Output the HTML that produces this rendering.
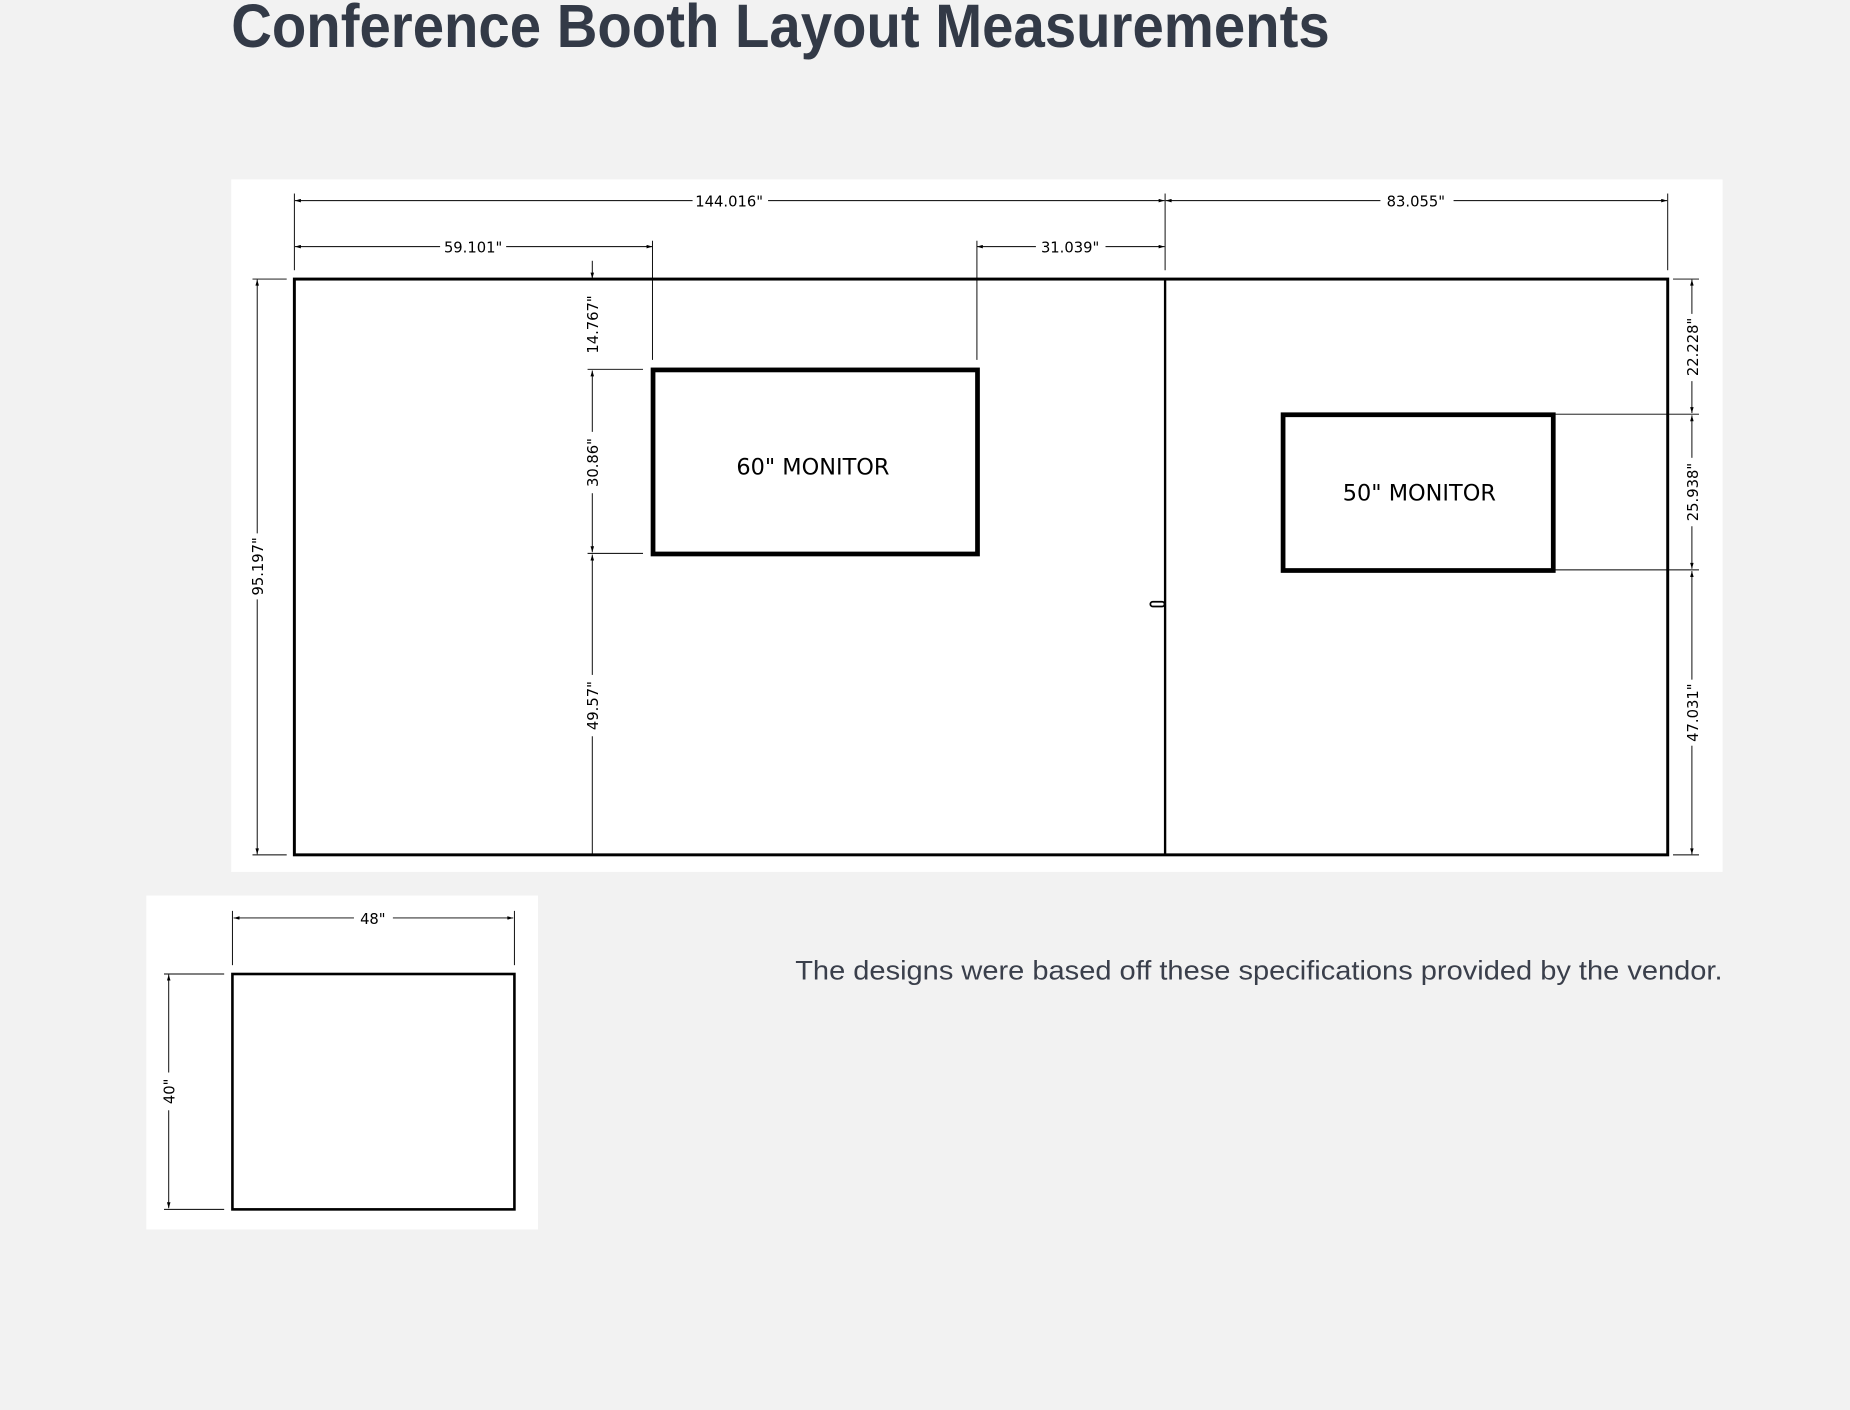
<!DOCTYPE html>
<html><head><meta charset="utf-8"><style>
html,body{margin:0;padding:0;background:#f2f2f2;width:1850px;height:1410px;overflow:hidden}
svg{display:block}
</style></head><body>
<svg width="1850" height="1410" viewBox="0 0 1568 1195" xmlns="http://www.w3.org/2000/svg">
<defs>
<marker id="a" viewBox="0 0 10 6" refX="10" refY="3" markerWidth="7" markerHeight="3" orient="auto-start-reverse" markerUnits="userSpaceOnUse"><path d="M0,0 L10,3 L0,6 z" fill="#000"/></marker>
</defs>
<rect width="1568" height="1195" fill="#f2f2f2"/>
<text x="196" y="40" font-family="Liberation Sans, sans-serif" font-size="52" font-weight="bold" fill="#333a47" textLength="931" lengthAdjust="spacingAndGlyphs">Conference Booth Layout Measurements</text>

<rect x="196" y="152" width="1264" height="587" fill="#fff"/>
<g stroke="#000" fill="none">
<rect x="249.5" y="236.5" width="1164" height="488" stroke-width="2.5"/>
<line x1="987.5" y1="236" x2="987.5" y2="724" stroke-width="2"/>
<rect x="975" y="510" width="12" height="4" rx="2" stroke-width="1.5"/>
<rect x="553.5" y="313.5" width="275" height="156" stroke-width="4"/>
<rect x="1087.5" y="351.5" width="229" height="132" stroke-width="4"/>
</g>
<g stroke="#000" stroke-width="0.8" fill="none">
<!-- extension lines -->
<line x1="249.5" y1="164" x2="249.5" y2="229"/>
<line x1="987.5" y1="164" x2="987.5" y2="229"/>
<line x1="1413.5" y1="164" x2="1413.5" y2="229"/>
<line x1="553" y1="204" x2="553" y2="305"/>
<line x1="828" y1="204" x2="828" y2="305"/>
<line x1="214" y1="236.5" x2="243" y2="236.5"/>
<line x1="214" y1="724.5" x2="243" y2="724.5"/>
<line x1="498" y1="313" x2="545" y2="313"/>
<line x1="498" y1="469" x2="545" y2="469"/>
<line x1="1316" y1="351" x2="1440" y2="351"/>
<line x1="1316" y1="483" x2="1440" y2="483"/>
<line x1="1418" y1="236.5" x2="1440" y2="236.5"/>
<line x1="1418" y1="724.5" x2="1440" y2="724.5"/>
<!-- dims -->
<line x1="250" y1="170" x2="587" y2="170" marker-start="url(#a)"/>
<line x1="651" y1="170" x2="987" y2="170" marker-end="url(#a)"/>
<line x1="988" y1="170" x2="1170" y2="170" marker-start="url(#a)"/>
<line x1="1232" y1="170" x2="1413" y2="170" marker-end="url(#a)"/>
<line x1="250" y1="209" x2="373" y2="209" marker-start="url(#a)"/>
<line x1="429" y1="209" x2="553" y2="209" marker-end="url(#a)"/>
<line x1="828" y1="209" x2="878" y2="209" marker-start="url(#a)"/>
<line x1="937" y1="209" x2="987" y2="209" marker-end="url(#a)"/>
<line x1="218" y1="237" x2="218" y2="452" marker-start="url(#a)"/>
<line x1="218" y1="508" x2="218" y2="724" marker-end="url(#a)"/>
<line x1="502" y1="221" x2="502" y2="236" marker-end="url(#a)"/>
<line x1="502" y1="314" x2="502" y2="366" marker-start="url(#a)"/>
<line x1="502" y1="418" x2="502" y2="468" marker-end="url(#a)"/>
<line x1="502" y1="470" x2="502" y2="572" marker-start="url(#a)"/>
<line x1="502" y1="624" x2="502" y2="724"/>
<line x1="1434" y1="237" x2="1434" y2="266" marker-start="url(#a)"/>
<line x1="1434" y1="323" x2="1434" y2="350" marker-end="url(#a)"/>
<line x1="1434" y1="352" x2="1434" y2="388" marker-start="url(#a)"/>
<line x1="1434" y1="446" x2="1434" y2="482" marker-end="url(#a)"/>
<line x1="1434" y1="484" x2="1434" y2="576" marker-start="url(#a)"/>
<line x1="1434" y1="632" x2="1434" y2="724" marker-end="url(#a)"/>
</g>
<g font-family="DejaVu Sans, Liberation Sans, sans-serif" font-size="12.5" fill="#000" text-anchor="middle">
<text x="618" y="175">144.016"</text>
<text x="1200" y="175">83.055"</text>
<text x="401" y="214">59.101"</text>
<text x="907" y="214">31.039"</text>
<text transform="translate(223,480) rotate(-90)">95.197"</text>
<text transform="translate(507,275) rotate(-90)">14.767"</text>
<text transform="translate(507,392) rotate(-90)">30.86"</text>
<text transform="translate(507,598) rotate(-90)">49.57"</text>
<text transform="translate(1439,294) rotate(-90)">22.228"</text>
<text transform="translate(1439,417) rotate(-90)">25.938"</text>
<text transform="translate(1439,604) rotate(-90)">47.031"</text>
</g>
<g font-family="DejaVu Sans, Liberation Sans, sans-serif" font-size="19" fill="#000" text-anchor="middle">
<text x="689" y="402">60" MONITOR</text>
<text x="1203" y="424">50" MONITOR</text>
</g>

<rect x="124" y="759" width="332" height="283" fill="#fff"/>
<rect x="197" y="825.5" width="239" height="199.5" fill="none" stroke="#000" stroke-width="2.2"/>
<g stroke="#000" stroke-width="0.8" fill="none">
<line x1="197" y1="772" x2="197" y2="818"/>
<line x1="436" y1="772" x2="436" y2="818"/>
<line x1="139" y1="825.5" x2="190" y2="825.5"/>
<line x1="139" y1="1025" x2="190" y2="1025"/>
<line x1="198" y1="778" x2="300" y2="778" marker-start="url(#a)"/>
<line x1="333" y1="778" x2="435" y2="778" marker-end="url(#a)"/>
<line x1="143" y1="826" x2="143" y2="909" marker-start="url(#a)"/>
<line x1="143" y1="941" x2="143" y2="1024" marker-end="url(#a)"/>
</g>
<g font-family="DejaVu Sans, Liberation Sans, sans-serif" font-size="12.5" fill="#000" text-anchor="middle">
<text x="316" y="783">48"</text>
<text transform="translate(148,925) rotate(-90)">40"</text>
</g>
<text x="1460" y="830" text-anchor="end" font-family="Liberation Sans, sans-serif" font-size="23" fill="#3a3f4b" textLength="786" lengthAdjust="spacingAndGlyphs">The designs were based off these specifications provided by the vendor.</text>
</svg>
</body></html>
